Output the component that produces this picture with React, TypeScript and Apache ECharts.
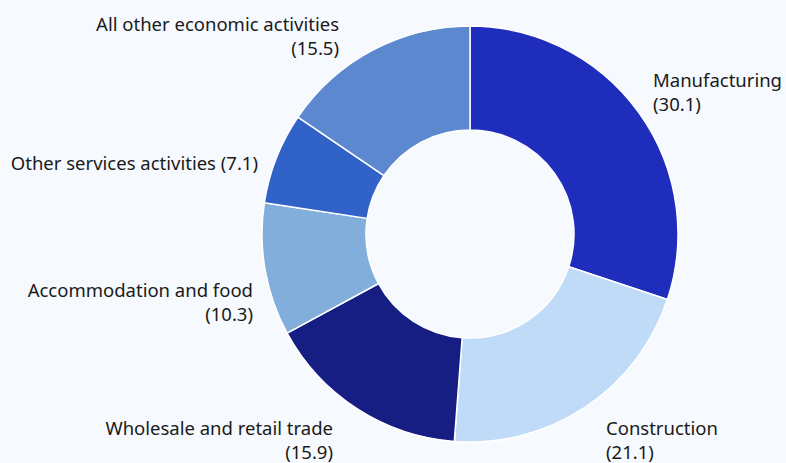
import React, { useEffect, useRef } from "react";
import * as echarts from "echarts";

const categories = [
  "Manufacturing",
  "Construction",
  "Wholesale and retail trade",
  "Accommodation and food",
  "Other services activities",
  "All other economic activities",
];
const values = [30.1, 21.1, 15.9, 10.3, 7.1, 15.5];
const colors = ["#1f2dbd", "#bfdbf7", "#161d83", "#82aedc", "#3062c8", "#5b88cf"];
const labelTexts = [
  "Manufacturing\n(30.1)",
  "Construction\n(21.1)",
  "Wholesale and retail trade\n(15.9)",
  "Accommodation and food\n(10.3)",
  "Other services activities (7.1)",
  "All other economic activities\n(15.5)",
];

// label anchor layout (x, y, align) — presentation only
const labelAnchors: [number, number, string][] = [
  [653, 91, "left"],
  [606, 439, "left"],
  [333, 439, "right"],
  [253, 301, "right"],
  [258, 162, "right"],
  [339, 35, "right"],
];

export default function App() {
  const ref = useRef<HTMLDivElement>(null);
  useEffect(() => {
    document.body.style.margin = "0";
    document.body.style.background = "#f6f9fd";
    const chart = echarts.init(ref.current!, null, { renderer: "svg" });
    chart.setOption({
      animation: false,
      backgroundColor: "#f6f9fd",
      series: [
        {
          type: "pie",
          center: [470, 234],
          radius: [104, 208],
          startAngle: 90,
          clockwise: true,
          avoidLabelOverlap: false,
          itemStyle: { borderColor: "#ffffff", borderWidth: 1.5 },
          label: {
            show: true,
            position: "outside",
            fontFamily: "Noto Sans",
            fontSize: 18.5,
            lineHeight: 24,
            color: "#1a1a1a",
            formatter: (p: any) => labelTexts[p.dataIndex],
          },
          labelLine: { show: false },
          labelLayout: (p: any) => {
            const a = labelAnchors[p.dataIndex];
            return { x: a[0], y: a[1], align: a[2], verticalAlign: "middle" };
          },
          data: categories.map((c, i) => ({
            name: c,
            value: values[i],
            itemStyle: { color: colors[i] },
          })),
        },
      ],
    });
    return () => chart.dispose();
  }, []);
  return (
    <div
      ref={ref}
      style={{ position: "fixed", left: 0, top: 0, width: 786, height: 463 }}
    />
  );
}
